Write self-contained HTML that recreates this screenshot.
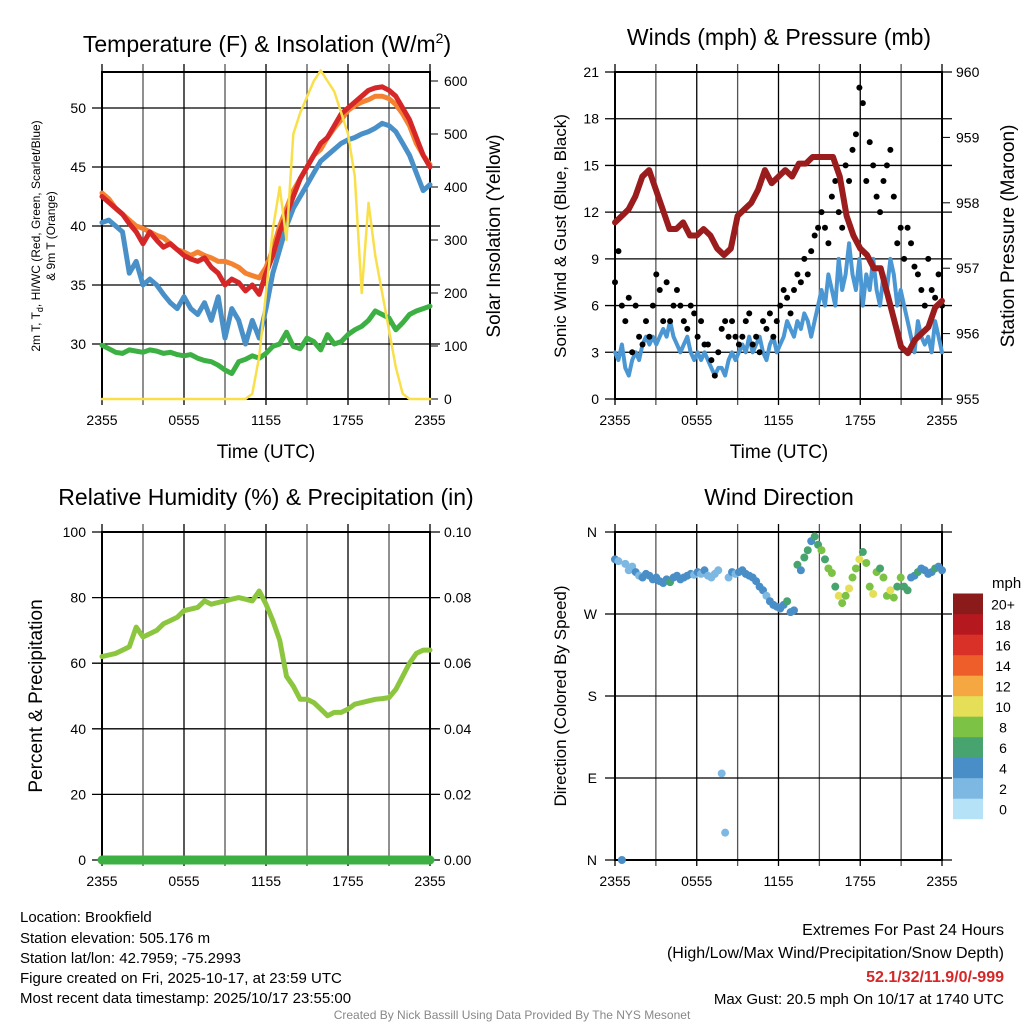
<!DOCTYPE html>
<html><head><meta charset="utf-8">
<style>
body{margin:0;background:#fff;}
svg text{font-family:"Liberation Sans",sans-serif;fill:#000;}
</style></head>
<body>
<svg id="svg" width="1024" height="1024" viewBox="0 0 1024 1024" xmlns="http://www.w3.org/2000/svg">
<rect width="1024" height="1024" fill="#fff"/>
<g id="layer"></g>
<text x="267" y="52" font-size="23" text-anchor="middle">Temperature (F) &amp; Insolation (W/m<tspan dy="-9" font-size="14">2</tspan><tspan dy="9">)</tspan></text>
<text x="779" y="45" font-size="23" text-anchor="middle">Winds (mph) &amp; Pressure (mb)</text>
<text x="266" y="505" font-size="23" text-anchor="middle">Relative Humidity (%) &amp; Precipitation (in)</text>
<text x="779" y="505" font-size="23" text-anchor="middle">Wind Direction</text>
<text x="266" y="458" font-size="19" text-anchor="middle">Time (UTC)</text>
<text x="779" y="458" font-size="19" text-anchor="middle">Time (UTC)</text>
<text transform="translate(40,236) rotate(-90)" font-size="12" text-anchor="middle">2m T, T<tspan dy="3" font-size="9">d</tspan><tspan dy="-3">, HI/WC (Red, Green, Scarlet/Blue)</tspan></text>
<text transform="translate(55,236) rotate(-90)" font-size="12" text-anchor="middle">&amp; 9m T (Orange)</text>
<text transform="translate(500,236) rotate(-90)" font-size="19" text-anchor="middle">Solar Insolation (Yellow)</text>
<text transform="translate(566,236) rotate(-90)" font-size="17" text-anchor="middle">Sonic Wind &amp; Gust (Blue, Black)</text>
<text transform="translate(1014,236) rotate(-90)" font-size="19" text-anchor="middle">Station Pressure (Maroon)</text>
<text transform="translate(42,696) rotate(-90)" font-size="19" text-anchor="middle">Percent &amp; Precipitation</text>
<text transform="translate(566,696) rotate(-90)" font-size="17" text-anchor="middle">Direction (Colored By Speed)</text>
<text x="992" y="588" font-size="15">mph</text>
<g font-size="15">
<text x="20" y="922">Location: Brookfield</text>
<text x="20" y="943">Station elevation: 505.176 m</text>
<text x="20" y="963">Station lat/lon: 42.7959; -75.2993</text>
<text x="20" y="983">Figure created on Fri, 2025-10-17, at 23:59 UTC</text>
<text x="20" y="1003">Most recent data timestamp: 2025/10/17 23:55:00</text>
</g>
<g font-size="16" text-anchor="end">
<text x="1004" y="935">Extremes For Past 24 Hours</text>
<text x="1004" y="958">(High/Low/Max Wind/Precipitation/Snow Depth)</text>
<text x="1004" y="982" font-weight="bold" style="fill:#d62728">52.1/32/11.9/0/-999</text>
<text x="1004" y="1004" font-size="15">Max Gust: 20.5 mph On 10/17 at 1740 UTC</text>
</g>
<text x="512" y="1019" font-size="12" text-anchor="middle" style="fill:#888">Created By Nick Bassill Using Data Provided By The NYS Mesonet</text>
</svg>
<script>
const xTickLabels=["2355","0555","1155","1755","2355"];
const tempRed=[42.5,42,41.5,41,40.2,39.5,38.5,39.5,38.8,38.2,38.5,38,37.5,37.2,37,37.3,36.5,36,35,35.5,35.2,34.5,35,34.2,36,37.5,39.5,41,42.5,44,45,46,47,47.5,48.5,49.5,50,50.5,51,51.5,51.7,51.8,51.5,51,50,49,47.5,46,45];
const tempOrange=[42.8,42.3,41.5,41,40.5,40,39.8,39.5,39.2,39,38.5,38,37.8,37.5,37.8,37.5,37.3,37,37,36.8,36.5,36,35.8,35.6,36.5,38,40,41.5,43,44,45,46,46.5,47.5,48.3,49,49.8,50.2,50.5,50.7,51,51,50.8,50.3,49.5,48.5,47,46,45.2];
const tempDew=[40.3,40.5,40,39.5,36,37,35,35.5,35,34.2,33.5,33,34,33,32.5,33.5,32,34,30.5,33,32,30,32,30.5,33,36,38,40,41.5,42.5,43.5,44.5,45.5,46,46.5,47,47.3,47.5,47.8,48,48.3,48.7,48.5,48,47,46,44.5,43,43.5];
const tempWC=[29.9,29.6,29.3,29.2,29.5,29.4,29.3,29.5,29.4,29.2,29.3,29.1,29,29.1,28.8,28.6,28.5,28.2,27.8,27.5,28.5,28.7,29,28.8,29.2,29.8,30,31,29.8,29.6,30.5,30.2,29.5,30.8,30,30.2,30.8,31.2,31.5,32,32.8,32.5,32.2,31.2,31.8,32.5,32.8,33,33.2];
const solar=[0,0,0,0,0,0,0,0,0,0,0,0,0,0,0,0,0,0,0,0,0,0,10,80,200,320,400,300,500,540,570,600,620,600,580,540,500,420,200,370,270,200,130,60,10,0,0,0,0];
const tempTicks=[30,35,40,45,50];
const solarTicks=[0,100,200,300,400,500,600];
const windSpeed=[3,2.5,3.5,2,1.5,2.5,3,2.5,3.5,4,3.5,4,3.5,4,4.5,4,5,4,3.5,3,3.5,4,3,2.5,3,2.5,3,2.5,2,1.5,2,2,1.5,2.5,3,2.5,3,3.5,3,4,3,3.5,4,3,2.5,3.5,4,3,3.5,4,5,4.5,4,5,4.5,5.5,5,4,5,6,7,6,8,7,6,9,7,8,10,8,7,9,6,8,7,9,7,6,8,7,9,8,6,7,6,5,4,3,5,4,3.5,4,3,5,4,3];
const windGust=[7.5,9.5,6,5,6.5,3,6,4,3.5,5,4,6,8,7,5,7.5,5,6,7,6,5,4.5,6,5.5,4,5,3.5,3.5,2.5,1.5,3,4.5,5,4,5,4,3.5,4,5,5.5,3.5,4,3,5,4.5,5.5,4,5,6,7,6.5,5.5,7,8,7.5,9,8,9.5,10.5,11,12,11,10,13,14,12,11,15,14,16,17,20,19,14,16.5,15,13,12,14,15,16,13,10,11,9,11,10,8.5,8,7,6,9,7,6.5,8,6];
const pressure=[957.7,957.8,957.9,958.1,958.4,958.5,958.2,957.9,957.6,957.6,957.7,957.5,957.5,957.6,957.5,957.3,957.2,957.3,957.8,957.9,958.0,958.2,958.5,958.3,958.4,958.5,958.4,958.6,958.6,958.7,958.7,958.7,958.7,958.4,957.8,957.5,957.3,957.2,957.0,957.0,956.6,956.2,955.8,955.7,955.9,956.0,956.1,956.4,956.5];
const windTicks=[0,3,6,9,12,15,18,21];
const pressTicks=[955,956,957,958,959,960];
const rh=[62,62.5,63,64,65,71,68,69,70,72,73,74,76,76.5,77,79,78,78.5,79,79.5,80,79.5,79,82,78,73,67,56,53,49,49,48,46,44,45,45,46,47.5,48,48.5,49,49.2,49.5,52,56,60,63,64,64];
const rhTicks=[0,20,40,60,80,100];
const precipTicks=["0.00","0.02","0.04","0.06","0.08","0.10"];
const windDir=[330,328,0,325,318,322,316,312,310,314,312,308,310,306,304,308,305,310,312,308,310,312,314,313,316,314,318,312,310,314,318,95,30,310,316,314,316,318,314,312,310,306,300,296,290,284,280,278,276,280,284,272,274,324,318,332,340,350,355,346,340,330,320,315,300,290,282,290,298,310,320,330,338,326,300,292,316,320,310,290,296,288,300,310,300,296,310,312,316,320,318,314,316,320,322,318];
const dirLabels=["N","E","S","W","N"];
const cbarLabels=["0","2","4","6","8","10","12","14","16","18","20+"];
const cbarColors=["#b6e2f7","#7db8e3","#4a8ec8","#47a46f","#7cc245","#e4df56","#f5a742","#ee5e2a","#d93027","#b5191f","#8b1a1a"];

const NS="http://www.w3.org/2000/svg";
const layer=document.getElementById('layer');
function mk(tag,attrs,parent){const e=document.createElementNS(NS,tag);for(const k in attrs)e.setAttribute(k,attrs[k]);(parent||layer).appendChild(e);return e;}
function scale(d0,d1,r0,r1){return v=>r0+(v-d0)/(d1-d0)*(r1-r0);}
const P1={l:102,r:430,t:72,b:399},P2={l:615,r:942,t:72,b:399},P3={l:102,r:430,t:532,b:860},P4={l:615,r:942,t:532,b:860};

function frame(P,name,hVals,yS){
  const g=mk('g',{});
  
  
  for(let h=0;h<=24;h+=3){const x=scale(0,24,P.l,P.r)(h);
    mk('line',{x1:x,x2:x,y1:P.t-8,y2:P.b+6,stroke:(h%6==0)?'#000':'#555','stroke-width':1.3},g);}
  hVals.forEach(v=>{const y=yS(v);mk('line',{x1:P.l-10,x2:P.r+10,y1:y,y2:y,stroke:'#000','stroke-width':1.3},g);});
  mk('rect',{x:P.l,y:P.t,width:P.r-P.l,height:P.b-P.t,fill:'none',stroke:'#000','stroke-width':2},g);
  xTickLabels.forEach((t,i)=>{const x=P.l+i*(P.r-P.l)/4;const tx=mk('text',{x:x,y:P.b+26,'font-size':14,'text-anchor':'middle'},g);tx.textContent=t;});
}
function leftLabels(P,vals,yS,fmt,name){vals.forEach(v=>{const t=mk('text',{x:P.l-16,y:yS(v)+5,'font-size':14,'text-anchor':'end'});
  
  
  t.textContent=fmt(v);});}
function rightLabels(P,vals,yS,labels,name){vals.forEach((v,i)=>{const y=yS(v);mk('line',{x1:P.r,x2:P.r+8,y1:y,y2:y,stroke:'#000','stroke-width':1});
  const t=mk('text',{x:P.r+14,y:y+5,'font-size':14});
  
  
  t.textContent=labels?labels[i]:v;});}
function line(arr,P,yS,color,w,name){const xs=scale(0,arr.length-1,P.l,P.r);
  const d=arr.map((v,i)=>(i?'L':'M')+xs(i).toFixed(1)+','+yS(v).toFixed(1)).join('');
  const p=mk('path',{d:d,fill:'none',stroke:color,'stroke-width':w,'stroke-linejoin':'round','stroke-linecap':'round'});
  
  }

const yT=scale(30,50,344,108), yS1=scale(0,600,399,81);
frame(P1,'temp',tempTicks,yT);
leftLabels(P1,tempTicks,yT,v=>v,'temp-tick');
rightLabels(P1,solarTicks,yS1,null,'solar-tick');
line(tempWC,P1,yT,'#3cb043',5,'wind-chill-line');
line(tempDew,P1,yT,'#4a90c8',5,'dewpoint-line');
line(tempOrange,P1,yT,'#f58231',5,'temp-9m-line');
line(tempRed,P1,yT,'#d62728',5,'temp-2m-line');
line(solar,P1,yS1,'#f9e04b',2.5,'solar-line');

const yW=scale(0,21,399,72), yP=scale(955,960,399,72);
frame(P2,'wind',windTicks,yW);
leftLabels(P2,windTicks,yW,v=>v,'wind-tick');
rightLabels(P2,pressTicks,yP,null,'pressure-tick');
line(windSpeed,P2,yW,'#4a97d4',4,'sonic-wind-line');
const xs96=scale(0,windGust.length-1,P2.l,P2.r);
windGust.forEach((v,i)=>{const c=mk('circle',{cx:xs96(i),cy:yW(v),r:3,fill:'#000'});
  
  });
line(pressure,P2,yP,'#9b1c1c',6,'pressure-line');

const yR=scale(0,100,860,532);
frame(P3,'rh',rhTicks,yR);
leftLabels(P3,rhTicks,yR,v=>v,'rh-tick');
rightLabels(P3,rhTicks,yR,precipTicks,'precip-tick');
line(rh,P3,yR,'#8cc63f',5,'rh-line');
const pl=mk('line',{x1:P3.l,x2:P3.r,y1:yR(0),y2:yR(0),stroke:'#3cb043','stroke-width':9,'stroke-linecap':'round'});



const yD=scale(0,360,860,532);
frame(P4,'dir',[0,90,180,270,360],yD);
[0,90,180,270,360].forEach((v,i)=>{const t=mk('text',{x:P4.l-18,y:yD(v)+5,'font-size':14,'text-anchor':'end'});
  
  
  t.textContent=dirLabels[i];});
const xd=scale(0,windDir.length-1,P4.l,P4.r);
windDir.forEach((v,i)=>{const s=windSpeed[i];const idx=Math.min(10,Math.max(0,Math.round(s/2)));
  const c=mk('circle',{cx:xd(i),cy:yD(v),r:4,fill:cbarColors[idx]});
  
  });
const cb=mk('g',{});


cbarColors.forEach((c,i)=>{const y=819-(i+1)*20.5;mk('rect',{x:953,y:y,width:30,height:20.7,fill:c},cb);
  const t=mk('text',{x:1003,y:y+16,'font-size':14,'text-anchor':'middle'},cb);t.textContent=cbarLabels[i];});
</script>
</body></html>
